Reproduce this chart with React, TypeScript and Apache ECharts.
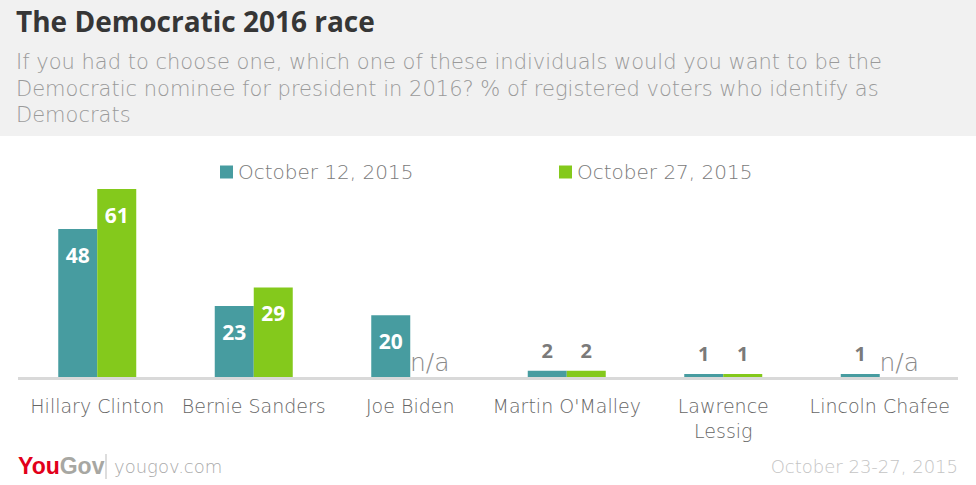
import React, { useEffect, useRef } from "react";
import * as echarts from "echarts";

const categories = ["Hillary Clinton", "Bernie Sanders", "Joe Biden", "Martin O'Malley", "Lawrence\nLessig", "Lincoln Chafee"];
const seriesNames = ["October 12, 2015", "October 27, 2015"];
const oct12: (number | null)[] = [48, 23, 20, 2, 1, 1];
const oct27: (number | null)[] = [61, 29, null, 2, 1, null];
const colors = ["#479ca0", "#84c91c"];

const TITLE = "The Democratic 2016 race";
const SUBTITLE = "If you had to choose one, which one of these individuals would you want to be the\nDemocratic nominee for president in 2016? % of registered voters who identify as\nDemocrats";
const SOURCE = "yougov.com";
const DATES = "October 23-27, 2015";

const LIGHT = "'DejaVu Sans', 'Open Sans', sans-serif";
const BOLD = "'Open Sans', Lato, sans-serif";

function buildData(values: (number | null)[]) {
  return values.map((v) => {
    if (v === null) {
      return {
        value: 0,
        label: {
          show: true,
          position: "top",
          distance: 2,
          formatter: "n/a",
          color: "#8a8a8a",
          fontSize: 25,
          fontWeight: 200,
          fontFamily: LIGHT,
        },
      };
    }
    if (v < 10) {
      return {
        value: v,
        label: {
          show: true,
          position: "top",
          distance: 10,
          color: "#7a7a7a",
          fontSize: 20,
          fontWeight: "bold",
          fontFamily: BOLD,
        },
      };
    }
    return {
      value: v,
      label: {
        show: true,
        position: "insideTop",
        distance: 15,
        color: "#ffffff",
        fontSize: 21,
        fontWeight: "bold",
        fontFamily: BOLD,
      },
    };
  });
}

export default function App() {
  const ref = useRef<HTMLDivElement>(null);
  useEffect(() => {
    const chart = echarts.init(ref.current!, null, { renderer: "svg" });
    const legendText = { color: "#7a7a7a", fontSize: 20, fontWeight: 200, fontFamily: LIGHT };
    chart.setOption({
      animation: false,
      backgroundColor: "#ffffff",
      grid: { left: 19, right: 18, top: 189, bottom: 108, containLabel: false },
      legend: [
        {
          data: [seriesNames[0]],
          left: 215,
          top: 157,
          icon: "rect",
          itemWidth: 13,
          itemHeight: 13,
          itemGap: 0,
          textStyle: legendText,
        },
        {
          data: [seriesNames[1]],
          left: 554,
          top: 157,
          icon: "rect",
          itemWidth: 13,
          itemHeight: 13,
          itemGap: 0,
          textStyle: legendText,
        },
      ],
      xAxis: {
        type: "category",
        data: categories,
        axisLine: { show: false },
        axisTick: { show: false },
        axisLabel: {
          interval: 0,
          margin: 16,
          color: "#666666",
          fontSize: 19,
          lineHeight: 25,
          fontWeight: 200,
          fontFamily: LIGHT,
        },
      },
      yAxis: { type: "value", min: 0, max: 61, show: false, splitLine: { show: false } },
      series: [
        {
          name: seriesNames[0],
          type: "bar",
          data: buildData(oct12),
          barWidth: 39,
          barGap: "0%",
          itemStyle: { color: colors[0] },
        },
        {
          name: seriesNames[1],
          type: "bar",
          data: buildData(oct27),
          barWidth: 39,
          barGap: "0%",
          itemStyle: { color: colors[1] },
        },
      ],
      graphic: [
        { type: "rect", z: -10, shape: { x: 0, y: 0, width: 976, height: 136 }, style: { fill: "#f1f1f1" } },
        {
          type: "text",
          x: 16,
          y: 21,
          style: {
            text: TITLE,
            fill: "#363636",
            fontSize: 28,
            fontWeight: "bold",
            fontFamily: BOLD,
            verticalAlign: "middle",
          },
        },
        {
          type: "text",
          x: 16,
          y: 49,
          style: {
            text: SUBTITLE,
            fill: "#9a9a9a",
            fontSize: 21,
            lineHeight: 26.5,
            fontWeight: 200,
            fontFamily: LIGHT,
            verticalAlign: "top",
          },
        },
        { type: "rect", shape: { x: 18, y: 377, width: 940, height: 3 }, style: { fill: "#d9d9d9" }, z: 10 },
        {
          type: "text",
          x: 18,
          y: 466,
          style: {
            text: "{a|You}{b|Gov}",
            verticalAlign: "middle",
            rich: {
              a: { fill: "#e2001a", fontSize: 23, fontWeight: "bold", fontFamily: "'Liberation Sans Narrow', 'Liberation Sans', sans-serif" },
              b: { fill: "#a7a7a2", fontSize: 23, fontWeight: "bold", fontFamily: "'Liberation Sans Narrow', 'Liberation Sans', sans-serif" },
            },
          },
        },
        { type: "line", shape: { x1: 106, y1: 454, x2: 106, y2: 479 }, style: { stroke: "#bbbbbb", lineWidth: 1 } },
        {
          type: "text",
          x: 114,
          y: 466,
          style: { text: SOURCE, fill: "#aaaaaa", fontSize: 18, fontWeight: 200, fontFamily: LIGHT, verticalAlign: "middle" },
        },
        {
          type: "text",
          x: 958,
          y: 466,
          style: { text: DATES, fill: "#c4c4c4", fontSize: 18, fontWeight: 200, fontFamily: LIGHT, verticalAlign: "middle", align: "right" },
        },
      ],
    });
    return () => chart.dispose();
  }, []);
  return (
    <div style={{ position: "fixed", left: 0, top: 0, width: 976, height: 485, background: "#fff" }}>
      <div ref={ref} style={{ width: 976, height: 485 }} />
    </div>
  );
}
